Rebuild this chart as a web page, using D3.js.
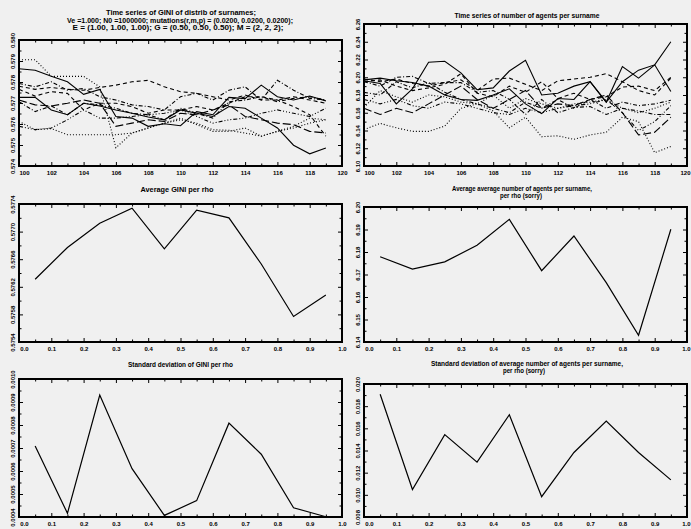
<!DOCTYPE html>
<html>
<head>
<meta charset="utf-8">
<script src="https://cdn.jsdelivr.net/npm/d3@7"></script>
<style>
  html, body { margin: 0; padding: 0; background: #f0f0f0; }
  svg { display: block; }
  .title { font-family: "Liberation Sans", Arial, sans-serif; font-size: 6.5px; font-weight: bold; fill: #000; }
  .tick text { font-family: "Liberation Sans", Arial, sans-serif; font-size: 6px; font-weight: bold; fill: #000; }
</style>
</head>
<body>
<svg id="chart" width="691" height="529"></svg>
<script>
// ---- time axis (steps) and rho values ----
const steps = [100,101,102,103,104,105,106,107,108,109,110,111,112,113,114,115,116,117,118,119];
const rho = [0.05,0.15,0.25,0.35,0.45,0.55,0.65,0.75,0.85,0.95];

// ---- GINI time series, one per rho ----
const gini0 = [0.57863,0.57856,0.57827,0.57801,0.57741,0.57765,0.57636,0.57628,0.57589,0.57601,0.57592,0.57659,0.57644,0.57727,0.57721,0.57785,0.57730,0.57714,0.57733,0.57710];
const gini1 = [0.57906,0.57906,0.57827,0.57827,0.57827,0.57777,0.57487,0.57557,0.57581,0.57604,0.57628,0.57597,0.57565,0.57565,0.57581,0.57542,0.57565,0.57589,0.57628,0.57620];
const gini2 = [0.57780,0.57765,0.57774,0.57765,0.57761,0.57774,0.57785,0.57801,0.57808,0.57777,0.57754,0.57746,0.57730,0.57714,0.57738,0.57714,0.57714,0.57730,0.57714,0.57699];
const gini3 = [0.57793,0.57777,0.57801,0.57761,0.57769,0.57730,0.57714,0.57691,0.57683,0.57667,0.57730,0.57746,0.57714,0.57761,0.57777,0.57714,0.57808,0.57761,0.57722,0.57714];
const gini4 = [0.57589,0.57573,0.57581,0.57620,0.57667,0.57628,0.57628,0.57636,0.57644,0.57651,0.57667,0.57636,0.57604,0.57620,0.57628,0.57651,0.57667,0.57651,0.57636,0.57675];
const gini5 = [0.57714,0.57691,0.57686,0.57699,0.57714,0.57699,0.57589,0.57604,0.57620,0.57612,0.57651,0.57644,0.57667,0.57691,0.57636,0.57620,0.57604,0.57597,0.57565,0.57557];
const gini6 = [0.57727,0.57727,0.57667,0.57644,0.57699,0.57686,0.57667,0.57651,0.57633,0.57620,0.57667,0.57651,0.57636,0.57683,0.57675,0.57628,0.57581,0.57499,0.57458,0.57486];
const gini7 = [0.57612,0.57573,0.57578,0.57549,0.57549,0.57549,0.57549,0.57557,0.57581,0.57604,0.57620,0.57604,0.57573,0.57570,0.57557,0.57542,0.57565,0.57581,0.57604,0.57620];
const gini8 = [0.57765,0.57733,0.57754,0.57746,0.57667,0.57699,0.57699,0.57683,0.57651,0.57667,0.57667,0.57683,0.57667,0.57699,0.57730,0.57730,0.57714,0.57683,0.57644,0.57542];
const gini9 = [0.57706,0.57659,0.57686,0.57644,0.57699,0.57691,0.57675,0.57651,0.57644,0.57620,0.57675,0.57651,0.57628,0.57706,0.57714,0.57730,0.57706,0.57722,0.57730,0.57714];

// ---- agents-per-surname time series, one per rho ----
const agents0 = [6.196,6.193,6.170,6.187,6.217,6.218,6.205,6.186,6.188,6.207,6.219,6.180,6.182,6.190,6.195,6.172,6.212,6.199,6.214,6.240];
const agents1 = [6.141,6.148,6.143,6.139,6.139,6.145,6.165,6.170,6.162,6.143,6.155,6.133,6.134,6.130,6.135,6.138,6.155,6.150,6.115,6.122];
const agents2 = [6.198,6.195,6.198,6.193,6.190,6.194,6.197,6.185,6.198,6.199,6.192,6.185,6.196,6.198,6.200,6.204,6.195,6.185,6.180,6.199];
const agents3 = [6.183,6.180,6.195,6.188,6.194,6.183,6.175,6.170,6.165,6.160,6.172,6.165,6.175,6.165,6.175,6.165,6.172,6.168,6.170,6.174];
const agents4 = [6.175,6.170,6.175,6.168,6.165,6.172,6.170,6.165,6.160,6.158,6.165,6.160,6.165,6.168,6.170,6.175,6.160,6.140,6.150,6.168];
const agents5 = [6.165,6.158,6.165,6.160,6.170,6.180,6.190,6.175,6.165,6.175,6.185,6.165,6.170,6.168,6.175,6.180,6.160,6.135,6.138,6.155];
const agents6 = [6.197,6.199,6.196,6.194,6.190,6.180,6.175,6.174,6.180,6.187,6.170,6.159,6.176,6.175,6.195,6.172,6.195,6.208,6.214,6.184];
const agents7 = [6.166,6.185,6.178,6.172,6.180,6.178,6.172,6.170,6.180,6.165,6.176,6.170,6.165,6.170,6.172,6.175,6.165,6.160,6.165,6.172];
const agents8 = [6.195,6.197,6.190,6.185,6.188,6.192,6.204,6.182,6.178,6.190,6.183,6.195,6.176,6.182,6.175,6.178,6.189,6.190,6.185,6.200];
const agents9 = [6.195,6.190,6.200,6.201,6.193,6.194,6.194,6.183,6.185,6.175,6.158,6.175,6.160,6.166,6.167,6.158,6.165,6.162,6.158,6.158];

// ---- per-rho summaries ----
const avgGini    = [0.57631,0.57677,0.57712,0.57734,0.57675,0.57731,0.57720,0.57653,0.57577,0.57608];
const avgAgents  = [6.1779,6.1724,6.1756,6.1830,6.1945,6.1717,6.1871,6.1664,6.1430,6.1901];
const sdGini     = [0.000709,0.000416,0.000930,0.000610,0.000407,0.000471,0.000808,0.000673,0.000440,0.000401];
const sdAgents   = [0.01907,0.01048,0.01543,0.01295,0.01723,0.00983,0.01382,0.01665,0.01382,0.01135];

// ---- tick values ----
const stepTicks   = [100,102,104,106,108,110,112,114,116,118,120];
const rhoTicks    = [0.0,0.1,0.2,0.3,0.4,0.5,0.6,0.7,0.8,0.9,1.0];
const giniTsTicks = [0.574,0.575,0.576,0.577,0.578,0.579,0.580];
const agentsTsTicks = [6.10,6.12,6.14,6.16,6.18,6.20,6.22,6.24,6.26];
const avgGiniTicks  = [0.5754,0.5758,0.5762,0.5766,0.5770,0.5774];
const avgAgentsTicks = [6.14,6.15,6.16,6.17,6.18,6.19,6.20];
const sdGiniTicks   = [0.0004,0.0005,0.0006,0.0007,0.0008,0.0009,0.0010];
const sdAgentsTicks = [0.008,0.010,0.012,0.014,0.016,0.018,0.020];

// line styles cycling like a plotting package's linestyle index
const dashes = [null, "1,2", "4,3", "4,2,1,2", "4,2,1,2,1,2,1,2", "8,3"];

const W = 691;
const svg = d3.select("#chart");

function midpoints(t) {
  const out = [];
  for (let i = 0; i < t.length - 1; i++) out.push((t[i] + t[i + 1]) / 2);
  return out;
}

function panel(cfg) {
  const x = d3.scaleLinear().domain(cfg.xDomain).range([cfg.x0, cfg.x1]);
  const y = d3.scaleLinear().domain(cfg.yDomain).range([cfg.y1, cfg.y0]);
  const g = svg.append("g");

  // titles
  cfg.titles.forEach(t => {
    g.append("text").attr("class", "title")
      .attr("x", t.cx).attr("y", t.y)
      .attr("text-anchor", "middle")
      .attr("textLength", t.w).attr("lengthAdjust", "spacingAndGlyphs")
      .text(t.text);
  });

  const xMinor = cfg.xMinor || midpoints(cfg.xTicks);
  const yMinor = midpoints(cfg.yTicks);
  const major = 4, minor = 2.5;

  function addAxis(axis, tx, ty) {
    const a = g.append("g").attr("transform", `translate(${tx},${ty})`).call(axis);
    a.select(".domain").remove();
    a.selectAll("line").attr("stroke", "#000").attr("stroke-width", 1);
    return a;
  }

  // bottom axis: labelled major ticks plus minors, all pointing inward
  const bx = addAxis(d3.axisBottom(x).tickValues(cfg.xTicks).tickSize(-major).tickPadding(0)
    .tickFormat(d3.format(cfg.xFmt)), 0, cfg.y1);
  bx.selectAll("text").attr("y", 9).attr("dy", 0);
  // the first label sits just right of the corner, the last one is kept on the page
  bx.selectAll(".tick").filter((d, i) => i === 0).select("text").attr("x", 5);
  bx.selectAll(".tick").filter(d => x(d) + 6 > W).select("text")
    .attr("text-anchor", "end").attr("x", d => W - 1 - x(d));
  addAxis(d3.axisBottom(x).tickValues(xMinor).tickSize(-minor).tickFormat(""), 0, cfg.y1);
  addAxis(d3.axisTop(x).tickValues(cfg.xTicks).tickSize(-major).tickFormat(""), 0, cfg.y0);
  addAxis(d3.axisTop(x).tickValues(xMinor).tickSize(-minor).tickFormat(""), 0, cfg.y0);

  // left axis with vertical labels
  const ly = addAxis(d3.axisLeft(y).tickValues(cfg.yTicks).tickSize(-major)
    .tickFormat(d3.format(cfg.yFmt)), cfg.x0, 0);
  ly.selectAll("text")
    .attr("x", 0).attr("dy", 0)
    .attr("text-anchor", "middle")
    .attr("transform", "translate(-4,0) rotate(-90)");
  addAxis(d3.axisLeft(y).tickValues(yMinor).tickSize(-minor).tickFormat(""), cfg.x0, 0);
  addAxis(d3.axisRight(y).tickValues(cfg.yTicks).tickSize(-major).tickFormat(""), cfg.x1, 0);
  addAxis(d3.axisRight(y).tickValues(yMinor).tickSize(-minor).tickFormat(""), cfg.x1, 0);

  // data lines
  const multi = cfg.series.length > 1;
  const line = d3.line().x((d, i) => x(cfg.xs[i])).y(d => y(d));
  cfg.series.forEach((s, i) => {
    g.append("path")
      .attr("d", line(s))
      .attr("fill", "none")
      .attr("stroke", "#000")
      .attr("stroke-width", multi ? 1.1 : 1.2)
      .attr("stroke-dasharray", multi ? dashes[i % dashes.length] : null);
  });

  // frame
  g.append("rect")
    .attr("x", cfg.x0).attr("y", cfg.y0)
    .attr("width", cfg.x1 - cfg.x0).attr("height", cfg.y1 - cfg.y0)
    .attr("fill", "none").attr("stroke", "#000").attr("stroke-width", 2);
}

const giniSeries = [gini0, gini1, gini2, gini3, gini4, gini5, gini6, gini7, gini8, gini9];
const agentSeries = [agents0, agents1, agents2, agents3, agents4, agents5, agents6, agents7, agents8, agents9];

panel({
  x0: 19, x1: 342, y0: 40, y1: 166,
  xDomain: [100, 120], yDomain: [0.574, 0.580],
  xTicks: stepTicks, xMinor: d3.range(101, 120, 2), xFmt: "d",
  yTicks: giniTsTicks, yFmt: ".3f",
  xs: steps, series: giniSeries,
  titles: [
    { text: "Time series of GINI of distrib of surnames;", cx: 181, y: 15, w: 150 },
    { text: "Ve =1.000; N0 =1000000; mutations(r,m,p) = (0.0200, 0.0200, 0.0200);", cx: 180, y: 22.5, w: 226 },
    { text: "E = (1.00, 1.00, 1.00); G = (0.50, 0.50, 0.50); M = (2, 2, 2);", cx: 178, y: 30, w: 211 }
  ]
});

panel({
  x0: 364, x1: 687, y0: 24, y1: 166,
  xDomain: [100, 120], yDomain: [6.10, 6.26],
  xTicks: stepTicks, xMinor: d3.range(101, 120, 2), xFmt: "d",
  yTicks: agentsTsTicks, yFmt: ".2f",
  xs: steps, series: agentSeries,
  titles: [
    { text: "Time series of number of agents per surname", cx: 527, y: 17.5, w: 145 }
  ]
});

panel({
  x0: 19, x1: 342, y0: 204, y1: 342,
  xDomain: [0, 1], yDomain: [0.5754, 0.5774],
  xTicks: rhoTicks, xFmt: ".1f",
  yTicks: avgGiniTicks, yFmt: ".4f",
  xs: rho, series: [avgGini],
  titles: [
    { text: "Average GINI per rho", cx: 177, y: 191.5, w: 73 }
  ]
});

panel({
  x0: 364, x1: 687, y0: 207, y1: 342,
  xDomain: [0, 1], yDomain: [6.14, 6.20],
  xTicks: rhoTicks, xFmt: ".1f",
  yTicks: avgAgentsTicks, yFmt: ".2f",
  xs: rho, series: [avgAgents],
  titles: [
    { text: "Average average number of agents per surname,", cx: 522, y: 190.5, w: 140 },
    { text: "per rho (sorry)", cx: 521, y: 197.5, w: 42 }
  ]
});

panel({
  x0: 19, x1: 342, y0: 379, y1: 517,
  xDomain: [0, 1], yDomain: [0.0004, 0.0010],
  xTicks: rhoTicks, xFmt: ".1f",
  yTicks: sdGiniTicks, yFmt: ".4f",
  xs: rho, series: [sdGini],
  titles: [
    { text: "Standard deviation of GINI per rho", cx: 180.5, y: 366.5, w: 105 }
  ]
});

panel({
  x0: 364, x1: 687, y0: 384, y1: 517,
  xDomain: [0, 1], yDomain: [0.008, 0.020],
  xTicks: rhoTicks, xFmt: ".1f",
  yTicks: sdAgentsTicks, yFmt: ".3f",
  xs: rho, series: [sdAgents],
  titles: [
    { text: "Standard deviation of average number of agents per surname,", cx: 527, y: 366, w: 192 },
    { text: "per rho (sorry)", cx: 524, y: 372.5, w: 42 }
  ]
});
</script>
</body>
</html>
